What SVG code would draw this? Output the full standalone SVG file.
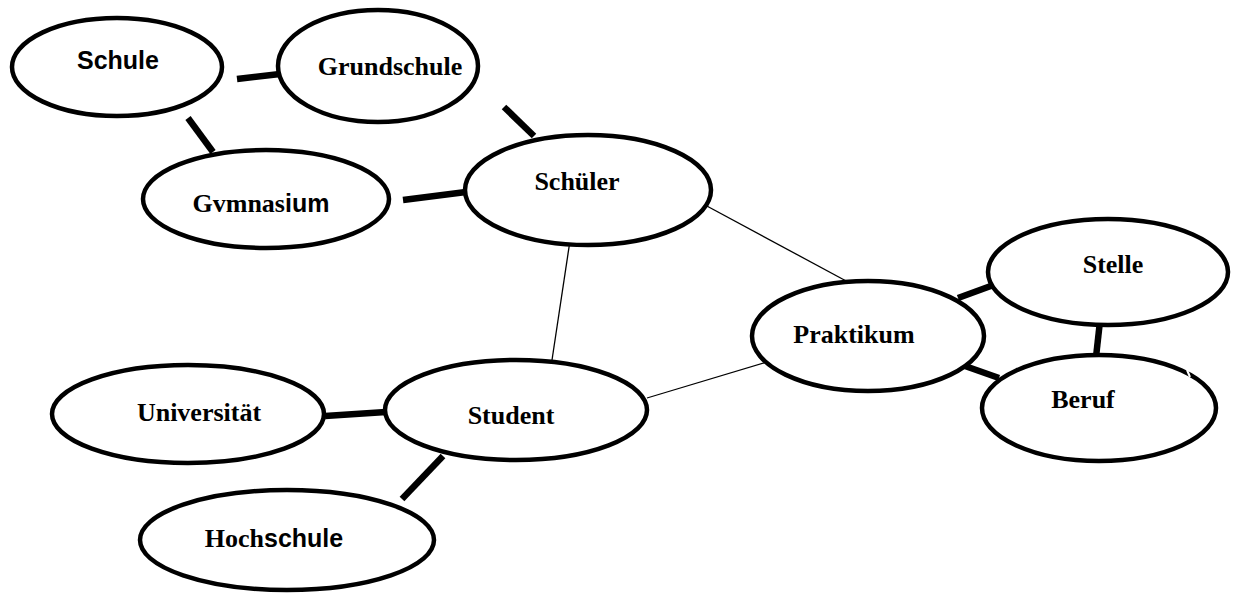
<svg xmlns="http://www.w3.org/2000/svg" width="1250" height="595" viewBox="0 0 1250 595">
  <style>
    .node { fill: #ffffff; stroke: #000000; stroke-width: 4.5; }
    .thick { stroke: #000000; stroke-width: 6.5; stroke-linecap: butt; fill: none; }
    .thin { stroke: #000000; stroke-width: 1.3; fill: none; }
    .serif { font-family: "Liberation Serif", "Times New Roman", serif; font-weight: bold; font-size: 26px; fill: #000; }
    .sans { font-family: "Liberation Sans", Arial, sans-serif; font-weight: bold; font-size: 25px; fill: #000; }
  </style>

  <!-- links between the concepts -->
  <g id="connectors">
    <line class="thick" x1="237" y1="79" x2="280" y2="74"/>
    <line class="thick" x1="188" y1="118" x2="213" y2="152"/>
    <line class="thick" x1="504" y1="107" x2="534" y2="136"/>
    <line class="thick" x1="403" y1="200" x2="466" y2="192"/>
    <line class="thick" x1="958" y1="298" x2="999" y2="283"/>
    <line class="thick" x1="1101" y1="312" x2="1096" y2="357"/>
    <line class="thick" x1="965" y1="366" x2="999" y2="378"/>
    <line class="thick" x1="325" y1="416" x2="386" y2="412"/>
    <line class="thick" x1="443" y1="456" x2="402" y2="499"/>
    <line class="thin" x1="705" y1="205" x2="848" y2="282"/>
    <line class="thin" x1="571" y1="234" x2="552" y2="360"/>
    <line class="thin" x1="647" y1="398" x2="767" y2="362"/>
  </g>

  <g id="schule">
    <ellipse class="node" cx="117" cy="67" rx="105" ry="49"/>
    <text class="sans" x="118" y="69" text-anchor="middle">Schule</text>
  </g>
  <g id="grundschule">
    <ellipse class="node" cx="378" cy="66" rx="100" ry="56"/>
    <text class="serif" x="390" y="75" text-anchor="middle">Grundschule</text>
  </g>
  <g id="gymnasium">
    <ellipse class="node" cx="266" cy="199" rx="123" ry="49"/>
    <text x="261" y="212" text-anchor="middle"><tspan class="serif">Gvmnas</tspan><tspan class="sans">ium</tspan></text>
  </g>
  <g id="schueler">
    <ellipse class="node" cx="588" cy="190" rx="123" ry="55"/>
    <text class="serif" x="577" y="190" text-anchor="middle">Schüler</text>
  </g>
  <g id="praktikum">
    <ellipse class="node" cx="868" cy="336" rx="116" ry="55"/>
    <text class="serif" x="854" y="343" text-anchor="middle">Praktikum</text>
  </g>
  <g id="stelle">
    <ellipse class="node" cx="1108" cy="272" rx="120" ry="53"/>
    <text class="serif" x="1113" y="273" text-anchor="middle">Stelle</text>
  </g>
  <g id="beruf">
    <ellipse class="node" cx="1099" cy="408" rx="117" ry="53"/>
    <!-- small break in the outline, upper right -->
    <line x1="1187" y1="370" x2="1190" y2="377" stroke="#ffffff" stroke-width="2"/>
    <text class="serif" x="1083" y="408" text-anchor="middle">Beruf</text>
  </g>
  <g id="universitaet">
    <ellipse class="node" cx="188" cy="414" rx="136" ry="49"/>
    <text class="serif" x="199" y="421" text-anchor="middle">Universität</text>
  </g>
  <g id="student">
    <ellipse class="node" cx="516" cy="410" rx="131" ry="50"/>
    <text class="serif" x="511" y="424" text-anchor="middle">Student</text>
  </g>
  <g id="hochschule">
    <ellipse class="node" cx="287" cy="540" rx="147" ry="50"/>
    <text x="274" y="547" text-anchor="middle"><tspan class="serif">Hoch</tspan><tspan class="sans">schule</tspan></text>
  </g>
</svg>
